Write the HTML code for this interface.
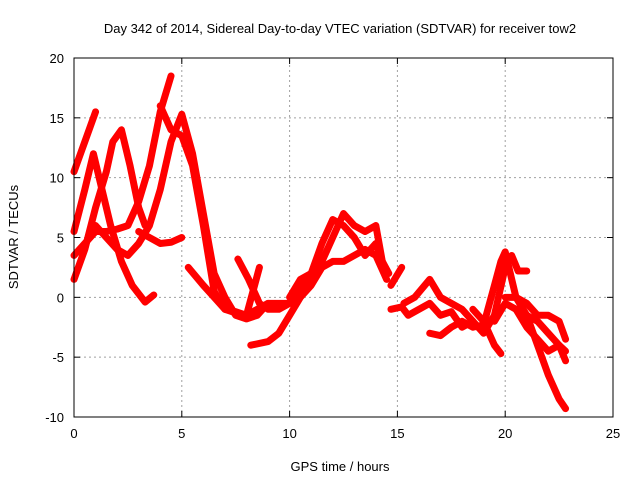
<!DOCTYPE html>
<html><head><meta charset="utf-8"><style>
body{margin:0;background:#fff;}
svg{display:block;font-family:"Liberation Sans",sans-serif;}
</style></head><body>
<svg id="c" width="640" height="480">
<text x="340" y="33" text-anchor="middle" font-size="13">Day 342 of 2014, Sidereal Day-to-day VTEC variation (SDTVAR) for receiver tow2</text>
<text x="340" y="471" text-anchor="middle" font-size="13">GPS time / hours</text>
<text transform="translate(18,237) rotate(-90)" text-anchor="middle" font-size="13">SDTVAR / TECUs</text>
<g id="grid"></g>
<g id="series"></g>
<rect x="74" y="58" width="539" height="359" fill="none" stroke="#000" stroke-width="1"/>
<g id="ticks"></g>
</svg>
<script>
const xTicks=[0,5,10,15,20,25];
const yTicks=[-10,-5,0,5,10,15,20];
const tracks=[
[[0,1.5],[0.5,4],[1,7.5],[1.5,10.5],[1.8,13],[2.2,14],[2.6,11],[3,7.5],[3.3,6]],
[[0,10.5],[0.5,13],[1,15.5]],
[[0,5.5],[0.5,9],[0.9,12],[1.3,9],[1.7,6],[2.2,3],[2.7,1],[3.3,-0.4],[3.7,0.2]],
[[0,3.5],[0.5,4.5],[1,5.5],[1.5,5.5],[2,5.7],[2.5,6],[3,8],[3.5,11],[4,15.5],[4.5,18.5]],
[[1,6],[1.5,5],[2,4],[2.5,3.5],[3,4.5],[3.5,6],[4,9],[4.5,13],[5,15.3],[5.5,12],[6,7],[6.5,2],[7,0],[7.5,-1.5],[8,-1.8],[8.5,-1.5],[9,-0.5]],
[[3,5.5],[3.5,5],[4,4.5],[4.5,4.6],[5,5]],
[[4,16],[4.5,14],[5,13.5],[5.5,11],[6,6],[6.5,0.5],[7,-1],[7.5,-1.2],[8,-1.5]],
[[5.3,2.5],[6,1],[6.5,0],[7,-1],[7.5,-1.3],[8,-1.5],[8.5,-1],[9,-0.5],[10,-0.5],[10.5,0.5],[11,2],[11.5,3],[12,5],[12.5,7],[13,6],[13.5,5.5],[14,6],[14.3,3],[14.6,2]],
[[7.6,3.2],[8.1,1.5],[8.6,-0.5],[9,-1],[9.5,-1],[10,-0.5]],
[[8,-1.5],[8.6,2.5]],
[[8.2,-4],[9,-3.7],[9.5,-3],[10,-1.5],[10.5,0],[11,1],[11.5,2.5],[12,3],[12.5,3],[13,3.5],[13.5,4],[14,3.5],[14.5,1.5]],
[[10,0],[10.5,1.5],[11,2],[11.5,4.5],[12,6.5],[12.5,6],[13,5],[13.5,3.5],[14,4.5],[14.4,2.5]],
[[14.7,1],[15.2,2.5]],
[[14.7,-1],[15.2,-0.8],[15.5,-1.5],[16,-1],[16.5,-0.5],[17,-1.5],[17.5,-1.2],[18,-2.5],[18.5,-2]],
[[15.3,-0.5],[15.8,0],[16.5,1.5],[17,0],[17.5,-0.5],[18,-1],[18.5,-2],[19,-3],[19.5,-1.5],[20,2.5],[20.3,3.5],[20.6,2.2],[21,2.2]],
[[16.5,-3],[17,-3.2],[17.5,-2.5],[18,-2],[18.5,-2.5],[19,-2.3],[19.5,1],[19.8,3],[20,3.8],[20.5,0],[21,-1.5],[21.5,-4],[22,-6.5],[22.5,-8.5],[22.8,-9.3]],
[[18.5,-1],[19,-2],[19.5,-4],[19.8,-4.7]],
[[19.5,-2],[20,-0.5],[20.5,-1],[21,-1.5],[21.5,-2],[22,-3],[22.5,-4],[22.8,-5.3]],
[[20,0],[20.5,0],[21,-0.5],[21.5,-1.5],[22,-1.5],[22.5,-2],[22.8,-3.5]],
[[20.5,-1],[21,-2.5],[21.5,-3.5],[22,-4.5],[22.5,-4],[22.8,-4.5]]
];
const X0=74,X1=613,Y0=417,Y1=58;
const sx=v=>X0+(v-0)/(25-0)*(X1-X0);
const sy=v=>Y0-(v+10)/(30)*(Y0-Y1);
const NS='http://www.w3.org/2000/svg';
const grid=document.getElementById('grid'),ticks=document.getElementById('ticks'),ser=document.getElementById('series');
function mk(t,a,p){const e=document.createElementNS(NS,t);for(const k in a)e.setAttribute(k,a[k]);p.appendChild(e);return e;}
xTicks.forEach(v=>{const x=sx(v);
 if(v>0&&v<25){const g=mk('line',{x1:x,x2:x,y1:Y0,y2:Y1,stroke:'#a0a0a0','stroke-dasharray':'2,3'},grid);
 
 }
 mk('line',{x1:x,x2:x,y1:Y0,y2:Y0-6,stroke:'#000'},ticks);
 mk('line',{x1:x,x2:x,y1:Y1,y2:Y1+6,stroke:'#000'},ticks);
 const t=mk('text',{x:x,y:Y0+21,'text-anchor':'middle','font-size':'13'},ticks);t.textContent=v;
 
 });
yTicks.forEach(v=>{const y=sy(v);
 if(v>-10&&v<20){const g=mk('line',{x1:X0,x2:X1,y1:y,y2:y,stroke:'#a0a0a0','stroke-dasharray':'2,3'},grid);
 
 }
 mk('line',{x1:X0,x2:X0+6,y1:y,y2:y,stroke:'#000'},ticks);
 mk('line',{x1:X1,x2:X1-6,y1:y,y2:y,stroke:'#000'},ticks);
 const t=mk('text',{x:X0-10,y:y+5,'text-anchor':'end','font-size':'13'},ticks);t.textContent=v;
 
 });
tracks.forEach(tr=>{const p=mk('polyline',{points:tr.map(d=>sx(d[0])+','+sy(d[1])).join(' '),fill:'none',stroke:'#f00','stroke-width':'7','stroke-linejoin':'round','stroke-linecap':'round'},ser);
 
 });
</script>
</body></html>
